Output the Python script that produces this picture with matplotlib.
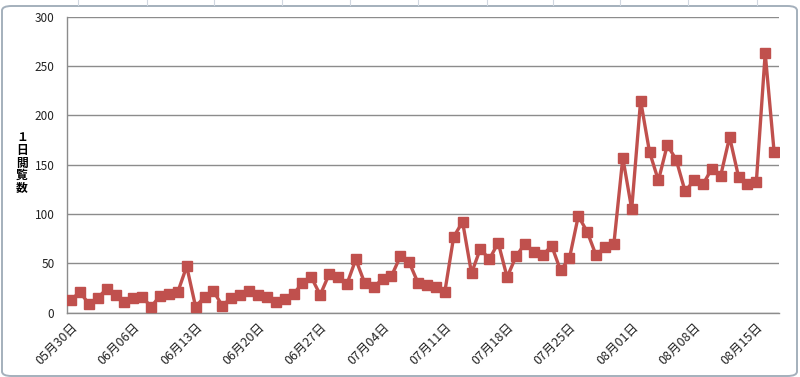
import datetime as dt
import matplotlib
matplotlib.use("Agg")
import matplotlib.pyplot as plt
from matplotlib.patches import FancyBboxPatch
from matplotlib.lines import Line2D

plt.rcParams['font.family'] = ['Noto Sans CJK JP', 'DejaVu Sans']

start_date = dt.date(2010, 5, 30)
views = [13, 21, 9, 15, 24, 18, 11, 15, 16, 6,
         17, 19, 21, 47, 6, 16, 22, 7, 15, 18,
         22, 18, 16, 11, 14, 19, 30, 36, 18, 39,
         36, 29, 54, 30, 26, 34, 37, 57, 51, 30,
         28, 26, 21, 77, 92, 40, 65, 54, 71, 36,
         57, 70, 62, 58, 68, 43, 55, 98, 82, 58,
         67, 70, 157, 105, 215, 163, 134, 170, 155, 123,
         134, 130, 146, 139, 178, 138, 130, 132, 263, 163]
dates = [start_date + dt.timedelta(days=i) for i in range(len(views))]
date_labels = [d.strftime('%m月%d日') for d in dates]
y_ticks = [0, 50, 100, 150, 200, 250, 300]
y_label = '１\n日\n閲\n覧\n数'

W, H = 800, 377
fig = plt.figure(figsize=(W / 100, H / 100), dpi=100)
fig.patch.set_facecolor('white')

# chart frame (rounded border)
frame = FancyBboxPatch((2 / W, 1 / H), (W - 5) / W, (H - 7) / H,
                       boxstyle="round,pad=0,rounding_size=0.012",
                       transform=fig.transFigure, facecolor='none',
                       edgecolor='#A4B0BC', linewidth=1.4, zorder=-1)
fig.patches.append(frame)
# spreadsheet cell lines peeking above the chart
for xc in [78, 147, 214, 282, 350, 418, 487, 553, 620, 688, 757]:
    fig.lines.append(Line2D([xc / W, xc / W], [1 - 5 / H, 1], transform=fig.transFigure,
                            color='#D0D7E0', linewidth=0.8))

left, right, top, bottom = 67, 779, 16.7, 312.7
ax = fig.add_axes([left / W, 1 - bottom / H, (right - left) / W, (bottom - top) / H])
ax.set_facecolor('none')

x = list(range(len(views)))
ax.plot(x, views, color='#C0504D', linewidth=2.4, marker='s', markersize=6.8,
        markerfacecolor='#C0504D', markeredgecolor='#C0504D', zorder=3)

ax.set_xlim(-0.45, len(views) - 1 + 0.55)
ax.set_ylim(0, 300)
ax.set_yticks(y_ticks)
ax.set_yticklabels([str(v) for v in y_ticks], fontsize=8.5, color='#222222')
ax.yaxis.grid(True, color='#8C8C8C', linewidth=1.0)
ax.set_axisbelow(True)

tick_idx = list(range(0, len(views), 7))
ax.set_xticks(tick_idx)
ax.set_xticklabels([date_labels[i] for i in tick_idx], rotation=45, ha='right',
                   rotation_mode='anchor', fontsize=9, color='#222222')
ax.tick_params(axis='x', length=0, pad=6)
ax.tick_params(axis='y', length=0, pad=9)

for s in ['top', 'right']:
    ax.spines[s].set_visible(False)
ax.spines['left'].set_color('#8C8C8C')
ax.spines['bottom'].set_color('#8C8C8C')
ax.spines['left'].set_linewidth(1.0)
ax.spines['bottom'].set_linewidth(1.0)

fig.text(22 / W, 1 - 163 / H, y_label, ha='center', va='center', fontsize=8.5,
         fontweight='bold', linespacing=0.95, color='black')

fig.savefig('out.png', dpi=100)
